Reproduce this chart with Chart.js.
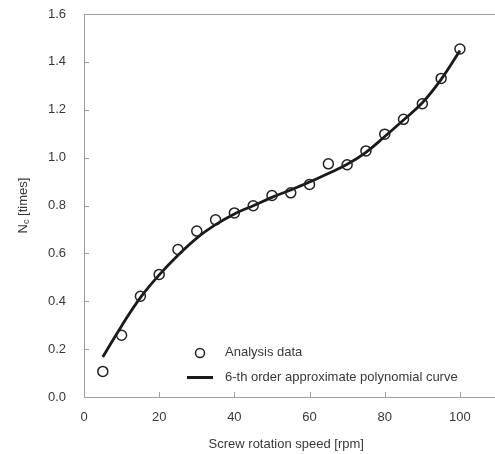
<!DOCTYPE html>
<html>
<head>
<meta charset="utf-8">
<script src="https://cdn.jsdelivr.net/npm/chart.js@4.4.1/dist/chart.umd.min.js"></script>
<style>
  body { margin: 0; background: #fff; }
</style>
</head>
<body>
<canvas id="nc-chart" width="495" height="454"></canvas>
<script>
// screw speed [rpm]
var speeds = [5, 10, 15, 20, 25, 30, 35, 40, 45, 50, 55, 60, 65, 70, 75, 80, 85, 90, 95, 100];
// analysis data (circles)
var analysisData = [0.107, 0.258, 0.421, 0.512, 0.616, 0.693, 0.740, 0.769, 0.799, 0.842,
                    0.853, 0.888, 0.974, 0.970, 1.028, 1.098, 1.160, 1.225, 1.331, 1.454];
// 6th order polynomial curve
var curveData = [0.167, 0.297, 0.415, 0.510, 0.592, 0.664, 0.720, 0.765, 0.799, 0.834,
                 0.865, 0.898, 0.934, 0.972, 1.022, 1.088, 1.157, 1.229, 1.327, 1.447];
var xTicks = [0, 20, 40, 60, 80, 100];
var yTicks = [0, 0.2, 0.4, 0.6, 0.8, 1.0, 1.2, 1.4, 1.6];

var FONT = '"Liberation Sans", Arial, sans-serif';
var TEXT = '#383838';
var AXIS = '#a0a0a0';

function toPoints(ys) {
  var out = [];
  for (var i = 0; i < speeds.length; i++) out.push({ x: speeds[i], y: ys[i] });
  return out;
}

// frame lines, ticks pointing into the plot, y title with subscript, legend inside
var decor = {
  id: 'decor',
  afterDraw: function(chart) {
    var c = chart.ctx, a = chart.chartArea;
    var xs = chart.scales.x, ys = chart.scales.y;
    c.save();
    c.strokeStyle = AXIS;
    c.lineWidth = 1;
    c.beginPath();
    c.moveTo(a.left, a.top + 0.5);
    c.lineTo(chart.width, a.top + 0.5);
    c.moveTo(a.left, Math.round(a.bottom) + 0.5);
    c.lineTo(chart.width, Math.round(a.bottom) + 0.5);
    xTicks.forEach(function(v) {
      var px = Math.round(xs.getPixelForValue(v)) + 0.5;
      c.moveTo(px, a.bottom);
      c.lineTo(px, a.bottom - 5);
    });
    yTicks.forEach(function(v) {
      var py = Math.round(ys.getPixelForValue(v)) + 0.5;
      c.moveTo(a.left, py);
      c.lineTo(a.left + 5, py);
    });
    c.stroke();

    // y title: N_c [times]
    c.fillStyle = TEXT;
    c.translate(23, (a.top + a.bottom) / 2);
    c.rotate(-Math.PI / 2);
    var big = '13px ' + FONT, small = '9px ' + FONT;
    c.font = big;
    var w1 = c.measureText('N').width;
    var w3 = c.measureText(' [times]').width;
    c.font = small;
    var w2 = c.measureText('c').width;
    var x0 = -(w1 + w2 + w3) / 2;
    c.textBaseline = 'middle';
    c.textAlign = 'left';
    c.font = big;
    c.fillText('N', x0, 0);
    c.font = small;
    c.fillText('c', x0 + w1, 4);
    c.font = big;
    c.fillText(' [times]', x0 + w1 + w2, 0);
    c.restore();

    // legend
    c.save();
    c.font = '13px ' + FONT;
    c.fillStyle = TEXT;
    c.textBaseline = 'middle';
    var ds = chart.data.datasets;
    c.strokeStyle = '#222';
    c.lineWidth = 1.5;
    c.beginPath();
    c.arc(200, 353, 4.5, 0, Math.PI * 2);
    c.stroke();
    c.fillText(ds[0].label, 225, 352);
    c.strokeStyle = '#1a1a1a';
    c.lineWidth = 3;
    c.beginPath();
    c.moveTo(187, 377.5);
    c.lineTo(213, 377.5);
    c.stroke();
    c.fillText(ds[1].label, 225, 377);
    c.restore();
  }
};

var ctx = document.getElementById('nc-chart');
var ncChart = new Chart(ctx, {
  type: 'scatter',
  data: {
    datasets: [{
      label: 'Analysis data',
      data: toPoints(analysisData),
      pointStyle: 'circle',
      pointRadius: 5,
      borderColor: '#222',
      borderWidth: 1.5,
      backgroundColor: 'rgba(0,0,0,0)',
      showLine: false,
      clip: false,
      order: 1
    }, {
      label: '6-th order approximate polynomial curve',
      data: toPoints(curveData),
      showLine: true,
      pointRadius: 0,
      borderColor: '#1a1a1a',
      borderWidth: 2.8,
      tension: 0.4,
      fill: false,
      order: 2
    }]
  },
  options: {
    responsive: false,
    animation: false,
    layout: { padding: { top: 14, right: 0, left: 0, bottom: 0 } },
    plugins: { legend: { display: false }, tooltip: { enabled: false } },
    scales: {
      x: {
        type: 'linear',
        min: 0,
        max: 107.6,
        afterFit: function(s) {
          s.height = 57;
          s.paddingLeft = 0;
          s.paddingRight = 0;
        },
        afterBuildTicks: function(s) {
          s.ticks = xTicks.map(function(v) { return { value: v }; });
        },
        grid: { display: false, drawTicks: false },
        border: { display: false },
        ticks: { color: TEXT, font: { family: FONT, size: 13 }, padding: 13, maxRotation: 0 },
        title: {
          display: true,
          text: 'Screw rotation speed [rpm]',
          color: TEXT,
          font: { family: FONT, size: 13 },
          padding: { top: 0, bottom: 2 }
        }
      },
      y: {
        min: 0,
        max: 1.6,
        afterFit: function(s) {
          s.width = 84;
          s.paddingTop = 0;
          s.paddingBottom = 0;
        },
        afterBuildTicks: function(s) {
          s.ticks = yTicks.map(function(v) { return { value: v }; });
        },
        grid: { display: false, drawTicks: false },
        border: { display: true, color: AXIS, width: 1 },
        ticks: {
          color: TEXT,
          font: { family: FONT, size: 13 },
          padding: 18,
          callback: function(v) { return Number(v).toFixed(1); }
        }
      }
    }
  },
  plugins: [decor]
});
</script>
</body>
</html>
